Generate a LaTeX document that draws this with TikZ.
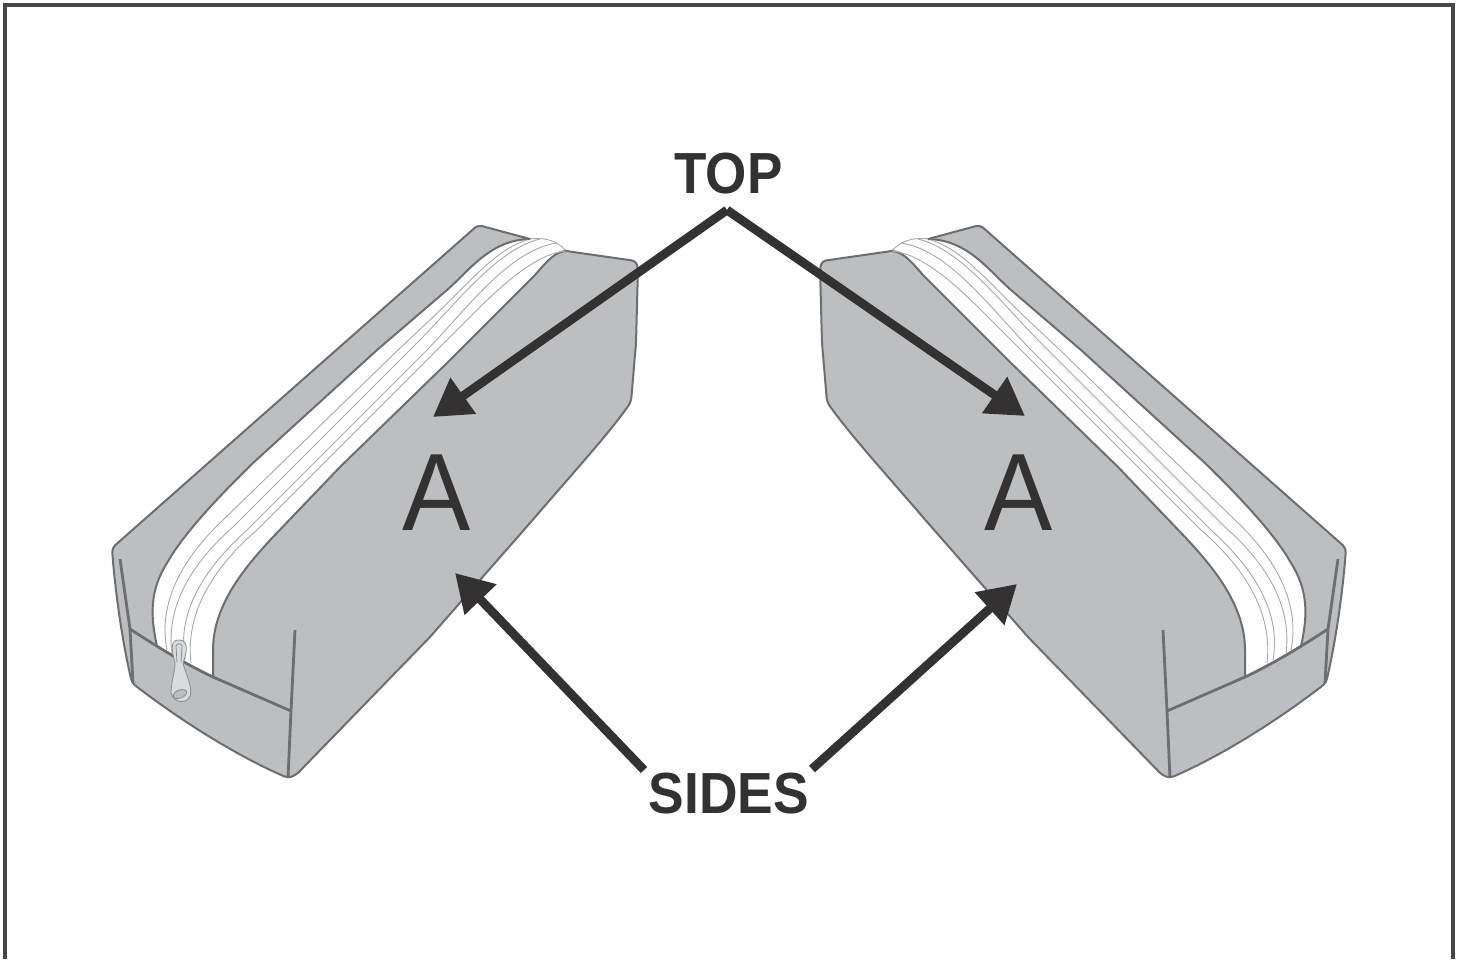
\documentclass[tikz,border=0pt]{standalone}
\usepackage{fontspec}
\setmainfont{Liberation Sans}
\usetikzlibrary{arrows.meta}
\definecolor{bagfill}{HTML}{BCBEC0}
\definecolor{bagline}{HTML}{6D6E71}
\definecolor{ink}{HTML}{333132}
\definecolor{zipline}{HTML}{A7A9AC}
\tikzset{
  outline/.style={draw=bagline,line width=1pt,line join=round},
  foldline/.style={draw=bagline,line width=1.4pt},
  zipthin/.style={draw=zipline,line width=.45pt},
  pullline/.style={draw=bagline!80,line width=.4pt},
  pointer/.style={draw=ink,line width=4.4pt,-{Triangle[length=18.5pt,width=21pt]}},
  heading/.style={text=ink,font=\bfseries\fontsize{29}{29}\selectfont,inner sep=0pt},
  letter/.style={text=ink,font=\fontsize{55}{55}\selectfont,inner sep=0pt}
}
\newcommand{\bagdrawing}{%
  % body
  \path[outline,fill=bagfill,rounded corners=2pt]
    (300,382) -- (478,225) -- (530,239) -- (566,251) -- (636,261) -- (638,268)
    -- (636,343) -- (631,402)
    .. controls (610,432) and (580,465) .. (530,523)
    -- (430,637) -- (296,775) -- (288,778)
    .. controls (235,755) and (180,720) .. (132,683)
    .. controls (122,640) and (115,590) .. (112,548) -- cycle;
  % zipper band
  \path[fill=white]
    (157,646) .. controls (150,615) and (150,590) .. (167,563)
    .. controls (180,540) and (205,510) .. (253,463)
    -- (377,350) -- (447,290) .. controls (470,270) and (490,240) .. (530,239)
    .. controls (545,237) and (558,241) .. (566,251)
    .. controls (555,252) and (548,260) .. (535,275)
    -- (447,363) -- (340,467) -- (273,537)
    .. controls (245,567) and (213,605) .. (213,650) -- (213,677) -- cycle;
  \draw[outline] (157,646) .. controls (150,615) and (150,590) .. (167,563)
    .. controls (180,540) and (205,510) .. (253,463)
    -- (377,350) -- (447,290) .. controls (470,270) and (490,240) .. (530,239);
  \draw[zipthin] (530,239) .. controls (545,237) and (558,241) .. (566,251);
  \draw[outline] (566,251) .. controls (555,252) and (548,260) .. (535,275)
    -- (447,363) -- (340,467) -- (273,537)
    .. controls (245,567) and (213,605) .. (213,650) -- (213,677);
  % zipper lines
  \draw[zipthin] (167,650) .. controls (160,615) and (170,570) .. (223,520)
    -- (398,350) -- (430,320) .. controls (470,282) and (495,250) .. (527,240);
  \draw[zipthin] (172,653) .. controls (167,615) and (182,572) .. (233,527)
    -- (410,350) .. controls (455,306) and (495,250) .. (540,239);
  \draw[zipthin] (185,660) .. controls (178,620) and (195,577) .. (247,530)
    -- (427,350) .. controls (470,305) and (510,250) .. (557,243);
  \draw[zipthin] (191,663) .. controls (186,620) and (205,575) .. (257,530)
    -- (437,350) .. controls (480,308) and (525,255) .. (566,251);
  % seams and folds
  \draw[foldline] (130,629) .. controls (165,652) and (190,666) .. (213,677)
    -- (291,711);
  \draw[foldline] (295,630) -- (291,711) -- (288,778);
  \draw[foldline] (120,559) -- (130,629) -- (133,683);
}
\begin{document}
\begin{tikzpicture}[x=.5pt,y=-.5pt]
\useasboundingbox (0,0) rectangle (1462,959);
\fill[white] (0,0) rectangle (1462,959);
\draw[draw=ink!90,line width=2pt] (5,959) -- (5,5) -- (1453,5) -- (1453,959);
\bagdrawing
\begin{scope}[xshift=729pt,xscale=-1]
\bagdrawing
\end{scope}
% zipper pull
\path[fill=bagfill!55,pullline]
  (175,663) .. controls (170,645) and (172,640) .. (179,640)
  .. controls (188,640) and (188,650) .. (183,663)
  .. controls (186,675) and (192,685) .. (190.5,695)
  .. controls (188,704) and (174,704) .. (171,693)
  .. controls (171,682) and (175,672) .. (175,663) -- cycle;
\draw[pullline] (176,646) -- (177,662) (182,646) -- (181,662) (176,646) .. controls (177,643) and (181,643) .. (182,646);
\draw[pullline,fill=bagfill,rotate around={20:(180,694)}] (180,694) ellipse [x radius=7,y radius=4];
% labels
\node[heading] (top) at (728.5,174) {\scalebox{.915}[1]{TOP}};
\node[heading] (sides) at (729,793.5) {\scalebox{.92}[1]{SIDES}};
\node[letter] (leftA) at (437,493) {\scalebox{.93}[1]{A}};
\node[letter] (rightA) at (1019,493) {\scalebox{.93}[1]{A}};
\coordinate (apex) at (727,210);
\coordinate (lefttop) at (433,417);
\coordinate (righttop) at (1025,416);
\coordinate (leftfoot) at (644,770);
\coordinate (rightfoot) at (812,769);
\coordinate (leftside) at (455,573);
\coordinate (rightside) at (1017,584);
\draw[pointer] (apex) -- (lefttop);
\draw[pointer] (apex) -- (righttop);
\draw[pointer] (leftfoot) -- (leftside);
\draw[pointer] (rightfoot) -- (rightside);
\end{tikzpicture}
\end{document}
